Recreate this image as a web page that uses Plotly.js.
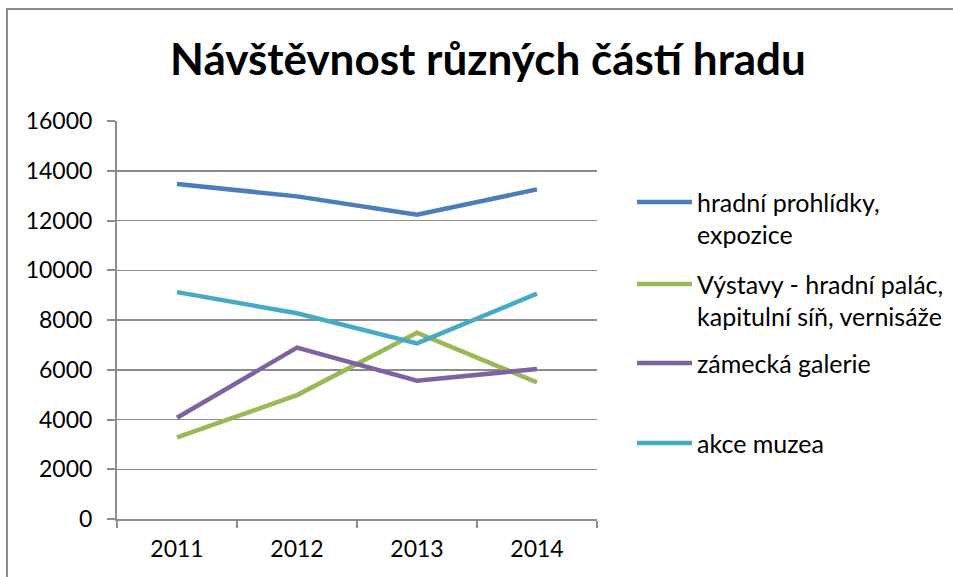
<!DOCTYPE html>
<html>
<head>
<meta charset="utf-8">
<script src="https://cdn.plot.ly/plotly-3.0.1.min.js"></script>
<style>html,body{margin:0;padding:0;background:#fff;}#chart{width:953px;height:577px;}</style>
</head>
<body>
<div id="chart"></div>
<script>
const years = ["2011", "2012", "2013", "2014"];
const seriesNames = ["hradní prohlídky,<br>expozice", "Výstavy - hradní palác,<br>kapitulní síň, vernisáže", "zámecká galerie", "akce muzea"];
const prohlidky = [13470, 12970, 12230, 13250];
const vystavy = [3280, 4980, 7490, 5490];
const galerie = [4070, 6890, 5560, 6030];
const akce = [9120, 8270, 7060, 9060];
const colors = ["#4A7EBB", "#98B954", "#7E62A1", "#46AAC5"];
const title = "Návštěvnost různých částí hradu";

const values = [prohlidky, vystavy, galerie, akce];
const W = 953, H = 577;
const L = 117, R = 597, T = 121, B = 519;
const px = x => (x - L) / (R - L);
const py = y => (B - y) / (B - T);
const FONT = "Lato, 'Open Sans', sans-serif";

const traces = values.map((v, i) => ({
  x: years, y: v, type: "scatter", mode: "lines",
  name: seriesNames[i].replace("<br>", " "),
  line: {color: colors[i], width: 4.5},
  showlegend: false, hoverinfo: "skip"
}));

const legendY = [202, 284, 363, 443];
const shapes = [];
const annotations = [];
seriesNames.forEach((name, i) => {
  shapes.push({type: "line", xref: "paper", yref: "paper",
    x0: px(637), x1: px(692), y0: py(legendY[i]), y1: py(legendY[i]),
    line: {color: colors[i], width: 4.5}});
  name.split("<br>").forEach((ln, j) => {
    annotations.push({xref: "paper", yref: "paper", x: px(695), y: py(legendY[i] + j * 32),
      xanchor: "left", yanchor: "middle", showarrow: false, text: ln,
      font: {family: FONT, size: 25, color: "#000"}});
  });
});
// outer chart border
shapes.push({type: "rect", xref: "paper", yref: "paper",
  x0: px(7), x1: px(1000), y0: py(9), y1: py(620),
  line: {color: "#8c8c8c", width: 2}, fillcolor: "rgba(0,0,0,0)", layer: "below"});

const layout = {
  width: W, height: H,
  margin: {l: L, r: W - R, t: T, b: H - B},
  paper_bgcolor: "#fff", plot_bgcolor: "#fff",
  title: {text: "<b>" + title + "</b>", x: 488 / W, xanchor: "center", y: 1 - 60 / H, yanchor: "middle",
    font: {family: FONT, size: 44, color: "#000"}},
  font: {family: FONT, size: 23, color: "#000"},
  xaxis: {type: "category", range: [-0.5, 3.5], showgrid: false, showline: true,
    linecolor: "#8c8c8c", linewidth: 2, ticks: "outside", tickson: "boundaries",
    ticklen: 7, tickcolor: "#8c8c8c", tickwidth: 2, zeroline: false,
    tickfont: {family: FONT, size: 23, color: "#000"}, ticklabelstandoff: 8},
  yaxis: {range: [0, 16000], dtick: 2000, tick0: 0, showgrid: true, gridcolor: "#8c8c8c", gridwidth: 1.5,
    showline: true, linecolor: "#8c8c8c", linewidth: 2, ticks: "outside", ticklen: 8,
    tickcolor: "#8c8c8c", tickwidth: 2, zeroline: false, tickformat: "d",
    tickfont: {family: FONT, size: 23, color: "#000"}, ticklabelstandoff: 10},
  shapes: shapes, annotations: annotations, showlegend: false
};
Plotly.newPlot("chart", traces, layout, {displayModeBar: false, staticPlot: true});
</script>
</body>
</html>
